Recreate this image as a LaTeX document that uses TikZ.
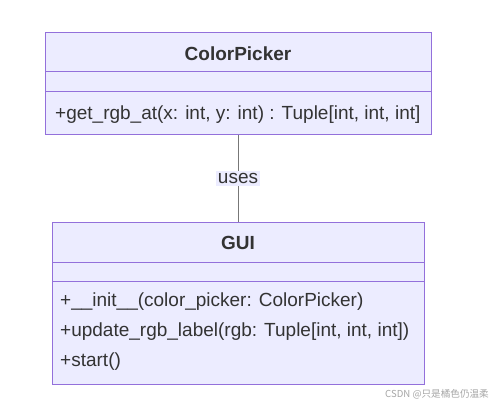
\documentclass[tikz,border=0pt]{standalone}
\usepackage{fontspec}
\setmainfont{Liberation Sans}
\newfontfamily\cjkfont{Noto Sans CJK SC}
\definecolor{boxfill}{HTML}{ECECFF}
\definecolor{boxline}{HTML}{9370DB}
\definecolor{txt}{HTML}{333333}
\definecolor{edge}{HTML}{777777}
\begin{document}
\begin{tikzpicture}[x=1pt,y=-1pt,
  classbox/.style={draw=boxline,fill=boxfill,line width=1pt},
  sep/.style={draw=boxline,line width=1pt},
  title/.style={font=\fontsize{19}{22}\selectfont\bfseries,text=txt,inner sep=0pt},
  member/.style={font=\fontsize{19}{22}\selectfont,text=txt,anchor=west,inner sep=0pt},
  edgelabel/.style={fill=boxfill,font=\fontsize{19}{22}\selectfont,text=txt,inner sep=2pt},
  conn/.style={draw=edge,line width=1pt}]
\useasboundingbox (0,0) rectangle (492,406);
\fill[white] (0,0) rectangle (492,406);
% ColorPicker
\path[classbox] (45,33) rectangle (431,135);
\draw[sep] (45,72) -- (431,72);
\draw[sep] (45,92) -- (431,92);
\node[title] (cpt) at (238,54) {ColorPicker};
\node[member] (cpm) at (55,115) {+get\_rgb\_at(x: int, y: int) : Tuple[int, int, int]};
\coordinate (cpb) at (238,135);
% GUI
\path[classbox] (52,222) rectangle (424,384);
\draw[sep] (52,262) -- (424,262);
\draw[sep] (52,281) -- (424,281);
\node[title] (guit) at (238,243) {GUI};
\node[member] (m1) at (60,302) {+\_\_init\_\_(color\_picker: ColorPicker)};
\node[member] (m2) at (60,332) {+update\_rgb\_label(rgb: Tuple[int, int, int])};
\node[member] (m3) at (60,362) {+start()};
\coordinate (guitop) at (238,222);
% connector
\draw[conn] (cpb) -- node[edgelabel] (uses) {uses} (guitop);
% watermark
\node[font=\fontsize{9.6}{11}\selectfont\cjkfont,text=black!35,anchor=east,inner sep=0pt] (wm) at (489,394) {CSDN @只是橘色仍温柔};
\end{tikzpicture}
\end{document}
